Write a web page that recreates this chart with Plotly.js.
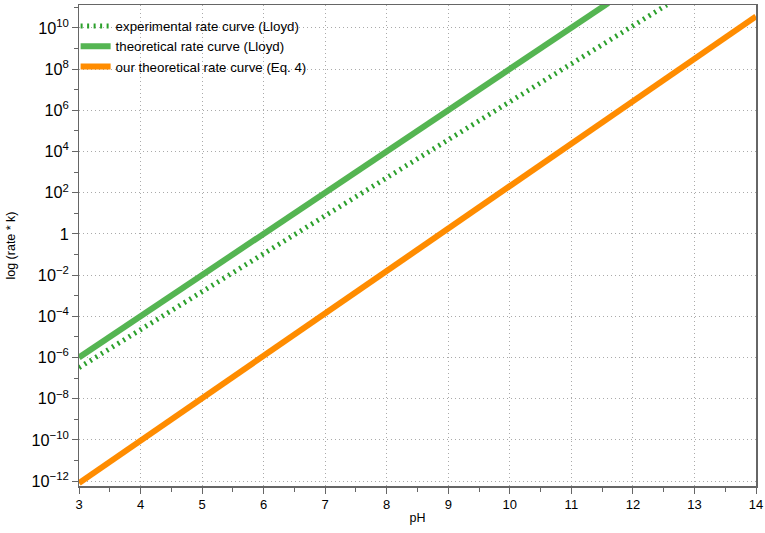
<!DOCTYPE html>
<html>
<head>
<meta charset="utf-8">
<script src="https://cdn.plot.ly/plotly-3.0.1.min.js"></script>
<style>html,body{margin:0;padding:0;background:#fff;}#chart{width:765px;height:533px;}</style>
</head>
<body>
<div id="chart"></div>
<script>
// Series names
const seriesNames = [
  "experimental rate curve (Lloyd)",
  "theoretical rate curve (Lloyd)",
  "our theoretical rate curve (Eq. 4)"
];
// pH values (endpoints of straight lines on log axis)
const phExperimental = [3, 12.55];
const rateExperimental = [3.2e-7, 1.3e11];
const phTheoretical = [3, 11.6];
const rateTheoretical = [1.0e-6, 1.6e11];
const phOurs = [3, 14];
const rateOurs = [8.0e-13, 3.6e10];

const font = "Liberation Sans, Arial, Helvetica, sans-serif";

const traces = [
  {x: phExperimental, y: rateExperimental, name: seriesNames[0], mode: "lines",
   line: {color: "#2ca02c", width: 5, dash: "2px,4.5px"}},
  {x: phTheoretical, y: rateTheoretical, name: seriesNames[1], mode: "lines",
   line: {color: "#55b552", width: 6}},
  {x: phOurs, y: rateOurs, name: seriesNames[2], mode: "lines",
   line: {color: "#ff8c00", width: 6}}
];

const layout = {
  width: 765, height: 533,
  margin: {l: 79, r: 9, t: 5, b: 47},
  paper_bgcolor: "#fff", plot_bgcolor: "#fff",
  font: {family: font, size: 12, color: "#000"},
  showlegend: true,
  legend: {x: -0.005, y: 0.988, xanchor: "left", yanchor: "top",
           bgcolor: "rgba(255,255,255,0)", font: {size: 13.3, family: font},
           tracegroupgap: 0},
  xaxis: {
    type: "linear", range: [3, 14], dtick: 1, tick0: 3,
    ticks: "outside", ticklen: 6, tickcolor: "#666",
    minor: {dtick: 0.5, ticks: "outside", ticklen: 4, tickcolor: "#666", showgrid: false},
    showline: true, linecolor: "#666", linewidth: 1.5, mirror: true,
    showgrid: true, gridcolor: "#aaa", griddash: "1px,3px", gridwidth: 1,
    zeroline: false,
    tickfont: {size: 13},
    title: {text: "pH", font: {size: 12.5}, standoff: 2}
  },
  yaxis: {
    type: "log", range: [-12.24, 11.11], dtick: 2,
    exponentformat: "power",
    ticks: "outside", ticklen: 6, tickcolor: "#666",
    minor: {dtick: 1, ticks: "outside", ticklen: 4, tickcolor: "#666", showgrid: false},
    showline: true, linecolor: "#666", linewidth: 1.5, mirror: true,
    showgrid: true, gridcolor: "#aaa", griddash: "1px,3px", gridwidth: 1,
    zeroline: false,
    tickfont: {size: 13},
    title: {text: "log (rate * k)", font: {size: 12.5}, standoff: 13}
  }
};

Plotly.newPlot("chart", traces, layout, {displayModeBar: false, staticPlot: true});
</script>
</body>
</html>
